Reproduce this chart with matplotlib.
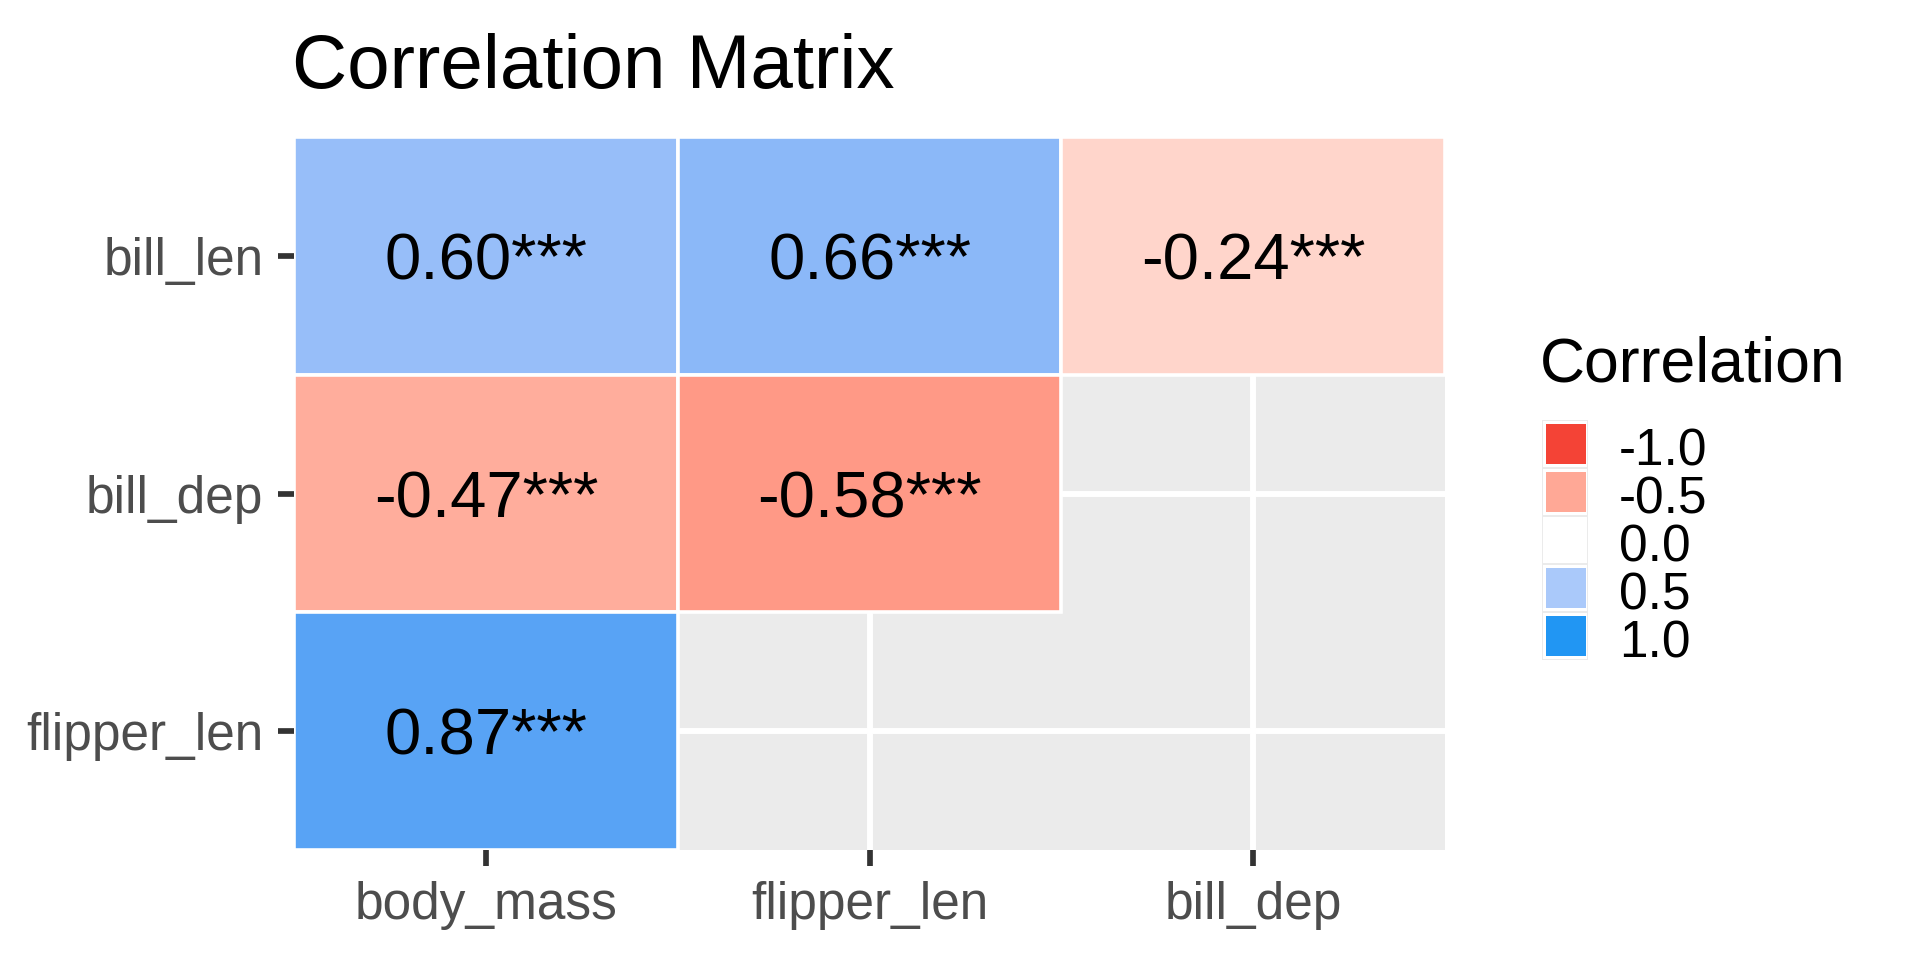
import numpy as np
import matplotlib
matplotlib.use("Agg")
import matplotlib.pyplot as plt
from matplotlib.colors import ListedColormap, Normalize
from matplotlib.patches import Rectangle

# ---------------- data ----------------
row_labels = ["bill_len", "bill_dep", "flipper_len"]
col_labels = ["body_mass", "flipper_len", "bill_dep"]
row_bill_len = [0.60, 0.66, -0.24]
row_bill_dep = [-0.47, -0.58, np.nan]
row_flipper_len = [0.87, np.nan, np.nan]
stars = "***"
legend_breaks = [-1.0, -0.5, 0.0, 0.5, 1.0]
title = "Correlation Matrix"
legend_title = "Correlation"
low_color, mid_color, high_color = "#F44336", "#FFFFFF", "#2196F3"

values = np.array([row_bill_len, row_bill_dep, row_flipper_len], dtype=float)

# ---------------- Lab-space gradient (like scale_fill_gradient2) ----------------
WHITE = np.array([0.95047, 1.0, 1.08883])
M = np.array([[0.4124564, 0.3575761, 0.1804375],
              [0.2126729, 0.7151522, 0.0721750],
              [0.0193339, 0.1191920, 0.9503041]])
Minv = np.linalg.inv(M)


def hex_to_rgb(h):
    h = h.lstrip("#")
    return np.array([int(h[i:i + 2], 16) for i in (0, 2, 4)]) / 255.0


def rgb_to_lab(c):
    lin = np.where(c <= 0.04045, c / 12.92, ((c + 0.055) / 1.055) ** 2.4)
    xyz = M @ lin / WHITE
    f = np.where(xyz > 0.008856, np.cbrt(xyz), 7.787 * xyz + 16 / 116)
    return np.array([116 * f[1] - 16, 500 * (f[0] - f[1]), 200 * (f[1] - f[2])])


def lab_to_rgb(lab):
    L, a, b = lab
    fy = (L + 16) / 116
    fx = fy + a / 500
    fz = fy - b / 200
    f = np.array([fx, fy, fz])
    xyz = np.where(f ** 3 > 0.008856, f ** 3, (f - 16 / 116) / 7.787) * WHITE
    lin = Minv @ xyz
    lin = np.clip(lin, 0, 1)
    c = np.where(lin <= 0.0031308, 12.92 * lin, 1.055 * lin ** (1 / 2.4) - 0.055)
    return np.clip(c, 0, 1)


labs = [rgb_to_lab(hex_to_rgb(c)) for c in (low_color, mid_color, high_color)]
N = 1001
cols = []
for t in np.linspace(0, 1, N):
    if t <= 0.5:
        u = t / 0.5
        lab = labs[0] + (labs[1] - labs[0]) * u
    else:
        u = (t - 0.5) / 0.5
        lab = labs[1] + (labs[2] - labs[1]) * u
    cols.append(lab_to_rgb(lab))
cmap = ListedColormap(cols)
norm = Normalize(vmin=-1, vmax=1)

# ---------------- figure ----------------
plt.rcParams["font.family"] = ["Liberation Sans", "DejaVu Sans"]
W, H = 1920, 960
fig = plt.figure(figsize=(W / 100, H / 100), dpi=100)
fig.patch.set_facecolor("white")

pl, pt, pr, pb = 294, 137, 1445, 850
ax = fig.add_axes([pl / W, 1 - pb / H, (pr - pl) / W, (pb - pt) / H])
ax.set_facecolor("#EBEBEB")
for s in ax.spines.values():
    s.set_visible(False)

nr, nc = values.shape
for i in range(nr):
    for j in range(nc):
        v = values[i, j]
        if np.isfinite(v):
            ax.add_patch(Rectangle((j - 0.5, i - 0.5), 1, 1,
                                   facecolor=cmap(norm(v)), edgecolor="white",
                                   linewidth=2.6, zorder=2, clip_on=True))
            ax.text(j, i, f"{v:.2f}{stars}", ha="center", va="center_baseline",
                    fontsize=47, color="black", zorder=3)

ax.set_xlim(-0.5, nc - 0.5)
ax.set_ylim(nr - 0.5, -0.5)
ax.set_xticks(range(nc))
ax.set_xticklabels(col_labels)
ax.set_yticks(range(nr))
ax.set_yticklabels(row_labels)
ax.set_axisbelow(True)
ax.grid(True, color="white", linewidth=4.3)
ax.tick_params(axis="both", length=11.5, width=4.1, color="#333333",
               labelsize=37, labelcolor="#4D4D4D", pad=10.5)

# title
fig.text(292 / W, 1 - 88 / H, title, fontsize=55, color="black",
         ha="left", va="baseline")

# ---------------- legend ----------------
lax = fig.add_axes([0, 0, 1, 1])
lax.set_xlim(0, W)
lax.set_ylim(H, 0)
lax.axis("off")
lax.text(1540, 382, legend_title, fontsize=45, color="black",
         ha="left", va="baseline")
key_x, key_y0, key_pitch = 1542, 420, 48
for k, b in enumerate(legend_breaks):
    y = key_y0 + k * key_pitch
    lax.add_patch(Rectangle((key_x, y), 46, key_pitch, facecolor="#EBEBEB",
                            edgecolor="none"))
    lax.add_patch(Rectangle((key_x + 1.3, y + 1.3), 46 - 2.6, key_pitch - 2.6,
                            facecolor="white", edgecolor="none"))
    lax.add_patch(Rectangle((key_x + 4, y + 4), 40, 40,
                            facecolor=cmap(norm(b)), edgecolor="none"))
    lax.text(1619, y + 45, f"{b:.1f}", fontsize=37, color="black",
             ha="left", va="baseline")

fig.savefig("out.png", dpi=100, facecolor="white")
